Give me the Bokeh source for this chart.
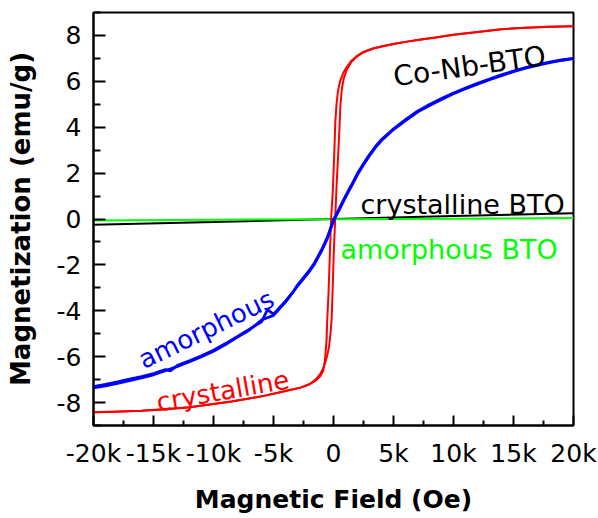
import math
from bokeh.plotting import figure
from bokeh.models import FixedTicker, Label
from bokeh.embed import file_html
from bokeh.resources import INLINE

# ---------------- data ----------------
x_ticks = [-20000, -15000, -10000, -5000, 0, 5000, 10000, 15000, 20000]
x_tick_labels = ["-20k", "-15k", "-10k", "-5k", "0", "5k", "10k", "15k", "20k"]
x_minor = [-17500, -12500, -7500, -2500, 2500, 7500, 12500, 17500]
y_ticks = [-8, -6, -4, -2, 0, 2, 4, 6, 8]
y_tick_labels = ["-8", "-6", "-4", "-2", "0", "2", "4", "6", "8"]
y_minor = [-9, -7, -5, -3, -1, 1, 3, 5, 7, 9]

# crystalline BTO (black)
cbto_x = [-20000, -10000, 0, 10000, 20000]
cbto_y = [-0.25, -0.13, 0.0, 0.13, 0.25]

# amorphous BTO (green)
abto_x = [-20000, 0, 20000]
abto_y = [-0.06, -0.01, 0.04]

# crystalline Co-Nb-BTO (red) descending branch
red_dn_x = [20000, 18000, 16000, 14000, 12000, 10000, 8500, 7000, 6000, 5000, 4000, 3300,
            2500, 2000, 1500, 1100, 800, 550, 380, 250, 150, 60, -60, -200, -300, -420,
            -530, -580, -700, -850, -1100, -1500, -2000, -2750, -4000, -5000, -6000,
            -7000, -8500, -10000, -12000, -14000, -16000, -18000, -20000]
red_dn_y = [8.40, 8.38, 8.34, 8.27, 8.15, 8.03, 7.91, 7.80, 7.72, 7.63, 7.52, 7.43,
            7.28, 7.12, 6.90, 6.62, 6.35, 6.00, 5.60, 5.00, 4.20, 2.80, 1.20, 0.00, -1.50, -3.30,
            -4.50, -5.30, -6.10, -6.60, -6.85, -7.05, -7.20, -7.35, -7.50, -7.62, -7.73,
            -7.82, -7.95, -8.06, -8.20, -8.30, -8.36, -8.40, -8.42]
# ascending branch
red_up_x = [-20000, -16000, -12000, -8500, -6000, -4000, -2750, -2000, -1500, -1100, -800,
            -550, -380, -250, -150, -60, 20, 140, 260, 390, 500, 580, 700, 850, 1100,
            1500, 2000, 2500, 3300, 4000, 5000, 6000, 7000, 8500, 10000, 12000, 14000,
            16000, 18000, 20000]
red_up_y = [-8.42, -8.36, -8.20, -7.95, -7.73, -7.50, -7.35, -7.20, -7.00, -6.75, -6.45,
            -6.00, -5.60, -5.00, -4.30, -2.90, -1.50, 0.00, 1.50, 2.80, 4.00, 4.98, 5.69, 6.12, 6.50,
            6.85, 7.10, 7.27, 7.43, 7.52, 7.63, 7.72, 7.80, 7.91, 8.03, 8.15, 8.27,
            8.34, 8.38, 8.40]

# amorphous Co-Nb-BTO (blue) descending branch
blue_dn_x = [20000, 19000, 18000, 17000, 16000, 15000, 14000, 13000, 12000, 11000, 10000,
             9000, 8000, 7000, 6000, 5000, 4000, 3500, 3000, 2500, 2000, 1500, 1000, 500, 0,
             -500, -1000, -1600, -2000, -3000, -3300, -4000, -5000, -5500, -6000, -7000,
             -8000, -9000, -10000, -11000, -12000, -13000, -13600, -14000, -15000, -16000,
             -17000, -18000, -19000, -20000]
blue_dn_y = [7.00, 6.93, 6.84, 6.73, 6.60, 6.45, 6.28, 6.10, 5.91, 5.71, 5.49,
             5.25, 4.99, 4.70, 4.33, 3.93, 3.46, 3.16, 2.81, 2.41, 1.99, 1.48, 1.00, 0.47, -0.03,
             -0.78, -1.35, -1.93, -2.23, -2.88, -3.13, -3.58, -4.15, -3.95, -4.48, -4.80,
             -5.12, -5.43, -5.72, -5.96, -6.18, -6.38, -6.62, -6.56, -6.74, -6.87,
             -6.98, -7.10, -7.21, -7.31]
blue_up_x = [-20000, -19000, -18000, -17000, -16000, -15000, -14000, -13000, -12000, -11000,
             -10000, -9000, -8000, -7000, -6000, -5000, -4000, -3000, -2000, -1600, -1000,
             -500, 0, 500, 1000, 1500, 2000, 2500, 3000, 3500, 4000, 5000, 6000, 7000, 8000,
             9000, 10000, 11000, 12000, 13000, 14000, 15000, 16000, 17000, 18000, 19000, 20000]
blue_up_y = [-7.36, -7.27, -7.16, -7.04, -6.92, -6.79, -6.61, -6.43, -6.22, -6.00,
             -5.76, -5.47, -5.15, -4.84, -4.40, -4.20, -3.62, -2.92, -2.28, -1.98, -1.40,
             -0.83, -0.08, 0.42, 0.95, 1.43, 1.94, 2.36, 2.76, 3.12, 3.42, 3.90, 4.29, 4.66, 4.95,
             5.21, 5.46, 5.68, 5.88, 6.07, 6.25, 6.42, 6.57, 6.70, 6.81, 6.91, 6.99]

# ---------------- figure ----------------
p = figure(width=598, height=518, x_range=(-20000, 20000), y_range=(-9, 9),
           output_backend="svg", toolbar_location=None,
           min_border_left=93, min_border_right=25, min_border_top=12, min_border_bottom=93)
p.grid.visible = False
p.outline_line_color = "black"
p.outline_line_width = 2
p.background_fill_color = "white"
p.border_fill_color = "white"

p.xaxis.ticker = FixedTicker(ticks=x_ticks, minor_ticks=x_minor)
p.xaxis.major_label_overrides = {t: s for t, s in zip(x_ticks, x_tick_labels)}
p.yaxis.ticker = FixedTicker(ticks=y_ticks, minor_ticks=y_minor)
p.yaxis.major_label_overrides = {t: s for t, s in zip(y_ticks, y_tick_labels)}

for ax in (p.xaxis, p.yaxis):
    ax.axis_line_width = 2
    ax.axis_line_color = "black"
    ax.major_tick_out = 0
    ax.minor_tick_out = 0
    ax.major_tick_line_width = 2
    ax.minor_tick_line_width = 2
    ax.major_label_text_font = "DejaVu Sans"
    ax.major_label_text_font_size = "25px"
    ax.major_label_text_color = "black"
    ax.axis_label_text_font = "DejaVu Sans"
    ax.axis_label_text_font_style = "bold"
    ax.axis_label_text_color = "black"

p.xaxis.major_tick_in = 10
p.xaxis.minor_tick_in = 5
p.yaxis.major_tick_in = 12
p.yaxis.minor_tick_in = 7
p.xaxis.major_label_standoff = 13
p.yaxis.major_label_standoff = 12
p.xaxis.axis_label = "Magnetic Field (Oe)"
p.yaxis.axis_label = "Magnetization (emu/g)"
p.xaxis.axis_label_text_font_size = "25px"
p.yaxis.axis_label_text_font_size = "26px"
p.xaxis.axis_label_standoff = 14
p.yaxis.axis_label_standoff = 18

p.line(cbto_x, cbto_y, line_color="black", line_width=2)
p.line(abto_x, abto_y, line_color="#00ff00", line_width=2)
p.line(red_dn_x, red_dn_y, line_color="#ff0000", line_width=2)
p.line(red_up_x, red_up_y, line_color="#ff0000", line_width=2)
p.line(blue_dn_x, blue_dn_y, line_color="#0000ff", line_width=2.8)
p.line(blue_up_x, blue_up_y, line_color="#0000ff", line_width=2.8)

def lab(x, y, text, color, size, ang):
    p.add_layout(Label(x=x, y=y, text=text, text_color=color, text_font="DejaVu Sans",
                       text_font_size=size, angle=math.radians(ang),
                       text_align="left", text_baseline="alphabetic"))

lab(5000, 6.2, "Co-Nb-BTO", "black", "28px", 7.9)
lab(2250, 0.63, "crystalline BTO", "black", "27px", 0)
lab(580, -1.33, "amorphous BTO", "#00ff00", "27px", 0)
lab(-16110, -6.2, "amorphous", "#0000ff", "26px", 25.9)
lab(-14725, -8.0, "crystalline", "#ff0000", "26px", 10)

open("out.html", "w").write(file_html(p, INLINE))
